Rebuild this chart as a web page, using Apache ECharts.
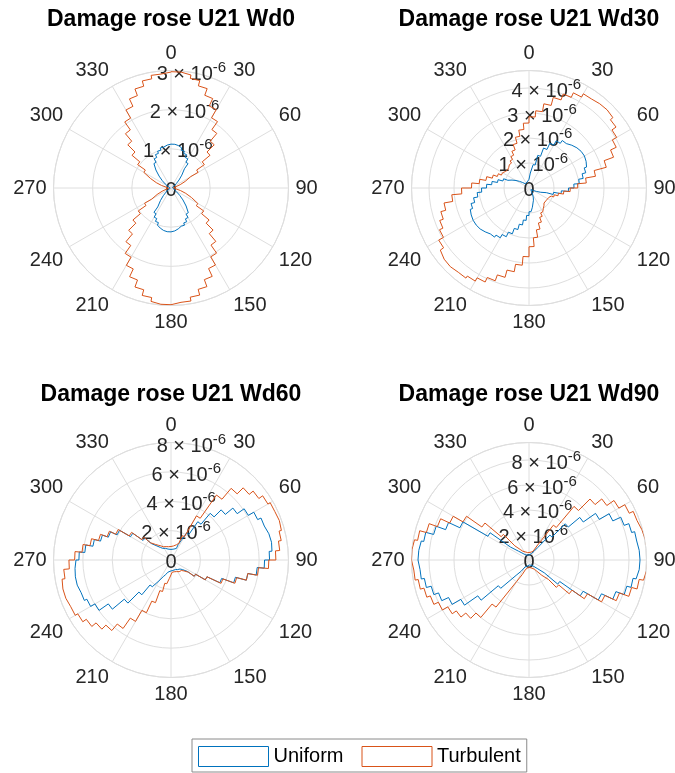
<!DOCTYPE html>
<html>
<head>
<meta charset="utf-8">
<script src="https://cdn.jsdelivr.net/npm/echarts@6/dist/echarts.min.js"></script>
<style>
html,body{margin:0;padding:0;background:#fff;}
#chart{width:675px;height:773px;}
</style>
</head>
<body>
<div id="chart"></div>
<script>
// ---------------- DATA (damage values in units of 1e-6) ----------------
// 72 angular bins of 5 degrees each; bin i spans [5*i, 5*i+5] degrees
const binWidth = 5;
const seriesNames = ['Uniform', 'Turbulent'];
const titles = ['Damage rose U21 Wd0', 'Damage rose U21 Wd30', 'Damage rose U21 Wd60', 'Damage rose U21 Wd90'];
const thetaStep = 30;
const rMax = [3.0, 4.7, 8.0, 9.4];
const rStep = [1, 1, 2, 2];
const rExponent = -6;

const uniformWd0 = [
  1.12,1.10,1.06,1.00,0.94,0.86,0.76,0.60,0.43,0.29,0.18,0.11,0.06,0.04,0.03,0.02,0.02,0.02,
  0.02,0.02,0.02,0.03,0.04,0.06,0.11,0.18,0.29,0.43,0.60,0.77,0.87,0.95,1.01,1.06,1.10,1.12,
  1.12,1.10,1.06,1.01,0.94,0.86,0.76,0.59,0.42,0.28,0.17,0.10,0.06,0.04,0.03,0.02,0.02,0.02,
  0.02,0.02,0.02,0.03,0.04,0.06,0.11,0.18,0.29,0.43,0.60,0.76,0.86,0.94,1.00,1.06,1.10,1.12
];
const turbulentWd0 = [
  2.97,2.93,2.84,2.70,2.52,2.31,2.07,1.82,1.56,1.30,1.04,0.80,0.58,0.40,0.25,0.13,0.06,0.03,
  0.03,0.06,0.13,0.25,0.40,0.58,0.79,1.02,1.27,1.52,1.78,2.03,2.27,2.49,2.68,2.83,2.93,2.98,
  2.98,2.94,2.84,2.69,2.50,2.28,2.04,1.79,1.53,1.27,1.02,0.78,0.57,0.39,0.24,0.13,0.06,0.03,
  0.03,0.06,0.13,0.25,0.40,0.58,0.80,1.04,1.30,1.56,1.81,2.06,2.30,2.51,2.69,2.83,2.92,2.96
];
const uniformWd30 = [
  0.35,0.60,0.95,1.35,1.70,1.98,2.18,2.32,2.42,2.50,2.55,2.56,2.52,2.45,2.35,2.20,2.02,1.80,
  1.58,1.30,1.00,0.72,0.50,0.32,0.20,0.13,0.10,0.10,0.12,0.18,0.28,0.40,0.52,0.62,0.78,0.95,
  1.10,1.30,1.50,1.72,1.95,2.15,2.30,2.40,2.48,2.55,2.58,2.58,2.55,2.50,2.40,2.25,2.08,1.90,
  1.70,1.50,1.28,1.08,0.90,0.75,0.60,0.46,0.35,0.27,0.22,0.20,0.20,0.20,0.22,0.25,0.28,0.32
];
const turbulentWd30 = [
  2.85,3.10,3.42,3.75,4.00,4.20,4.35,4.40,4.42,4.38,4.25,4.05,3.85,3.60,3.20,2.70,2.30,1.95,
  1.65,1.40,1.20,1.05,0.95,0.88,0.85,0.84,0.85,0.88,0.93,1.00,1.10,1.25,1.45,1.70,2.00,2.35,
  2.75,3.10,3.40,3.70,3.95,4.15,4.30,4.40,4.45,4.43,4.33,4.17,3.95,3.80,3.65,3.45,3.10,2.70,
  2.30,2.00,1.75,1.52,1.35,1.22,1.15,1.12,1.12,1.15,1.22,1.32,1.45,1.62,1.85,2.10,2.35,2.60
];
const uniformWd60 = [
  0.72,0.75,0.77,0.82,0.87,1.16,2.12,3.18,4.15,4.83,5.50,6.08,6.51,6.76,6.90,6.95,6.90,6.71,
  6.37,5.89,5.31,4.54,3.67,2.70,1.93,1.35,1.01,0.87,0.79,0.75,0.72,0.71,0.71,0.72,0.73,0.75,
  0.77,0.82,0.87,0.97,1.06,1.25,1.64,2.22,3.09,4.15,5.21,5.98,6.32,6.51,6.61,6.61,6.56,6.47,
  6.27,5.89,5.40,4.97,4.54,4.05,3.18,2.32,1.74,1.35,1.11,0.97,0.87,0.82,0.77,0.75,0.73,0.72
];
const turbulentWd60 = [
  0.92,0.97,1.01,1.11,1.25,1.83,3.47,5.40,6.37,6.95,7.30,7.62,7.80,7.85,7.78,7.62,7.43,7.14,
  6.66,5.98,5.31,4.63,3.76,2.70,1.93,1.45,1.16,1.01,0.97,0.92,0.87,0.85,0.83,0.82,0.84,0.92,
  1.01,1.25,1.64,2.22,3.09,3.96,4.83,5.69,6.27,6.66,7.04,7.33,7.53,7.62,7.62,7.53,7.33,6.95,
  6.56,6.08,5.60,5.11,4.63,4.15,3.28,2.41,1.83,1.50,1.30,1.16,1.04,0.97,0.94,0.92,0.92,0.92
];
const uniformWd90 = [
  0.40,0.42,0.45,0.50,0.55,0.65,0.80,1.20,2.60,4.10,5.30,6.50,7.40,8.10,8.50,8.75,8.85,8.88,
  8.85,8.70,8.45,8.10,7.40,6.40,5.00,3.00,1.60,1.00,0.75,0.60,0.50,0.45,0.42,0.40,0.40,0.40,
  0.40,0.42,0.45,0.50,0.55,0.65,0.80,1.10,1.60,3.20,5.00,6.30,7.10,7.70,8.10,8.50,8.75,8.88,
  8.85,8.75,8.55,7.90,7.10,6.10,3.80,1.80,1.10,0.80,0.62,0.52,0.46,0.43,0.41,0.40,0.40,0.40
];
const turbulentWd90 = [
  0.60,0.62,0.65,0.70,0.78,0.95,1.40,3.40,5.60,6.90,7.60,8.30,8.85,9.20,9.35,9.45,9.50,9.52,
  9.45,9.30,8.95,8.50,7.70,6.70,5.40,4.20,3.10,2.20,1.60,1.10,0.85,0.70,0.64,0.60,0.60,0.60,
  0.62,0.65,0.70,0.80,0.95,1.30,2.00,4.60,6.00,6.60,7.10,7.50,8.00,8.40,8.70,9.00,9.25,9.40,
  9.40,9.30,9.05,8.50,7.80,7.00,6.10,4.60,2.90,1.60,1.10,0.85,0.72,0.66,0.62,0.60,0.60,0.60
];
const uniformData = [uniformWd0, uniformWd30, uniformWd60, uniformWd90];
const turbulentData = [turbulentWd0, turbulentWd30, turbulentWd60, turbulentWd90];

// ---------------- LAYOUT / STYLE ----------------
const FONT = '"Liberation Sans", Arial, Helvetica, sans-serif';
const BLUE = '#0072BD', ORANGE = '#D95319';
const GRID = '#dedede', TXT = '#262626';
const centers = [[171, 188], [529, 188], [171, 560], [529, 560]];
const titleTop = [7, 7, 382, 382];
const R = 117.5;

function stairs(vals) {
  const pts = [];
  vals.forEach((v, i) => { pts.push([v, i * binWidth]); pts.push([v, (i + 1) * binWidth]); });
  pts.push([vals[0], 0]);
  return pts;
}

const polar = [], angleAxis = [], radiusAxis = [], series = [], title = [];
for (let i = 0; i < 4; i++) {
  polar.push({ center: centers[i], radius: R });
  angleAxis.push({
    polarIndex: i, type: 'value', min: 0, max: 360, interval: thetaStep,
    startAngle: 90, clockwise: true,
    axisLine: { show: true, lineStyle: { color: GRID, width: 1 } },
    axisTick: { show: false },
    axisLabel: { show: true, margin: 7, color: TXT, fontSize: 20, fontFamily: FONT },
    splitLine: { show: true, lineStyle: { color: GRID, width: 1 } }
  });
  radiusAxis.push({
    polarIndex: i, type: 'value', min: 0, max: rMax[i], interval: rStep[i],
    axisLine: { show: false }, axisTick: { show: false }, axisLabel: { show: false },
    splitLine: { show: true, lineStyle: { color: GRID, width: 1 } }
  });
  title.push({
    text: titles[i], left: centers[i][0], top: titleTop[i], textAlign: 'center', padding: 0,
    textStyle: { fontSize: 23, fontWeight: 'bold', color: '#000', lineHeight: 26, fontFamily: FONT }
  });
  series.push({
    name: seriesNames[0], type: 'line', coordinateSystem: 'polar', polarIndex: i,
    data: stairs(uniformData[i]), showSymbol: false, symbol: 'none', smooth: false,
    lineStyle: { color: BLUE, width: 1 }, itemStyle: { color: BLUE }, z: 3
  });
  series.push({
    name: seriesNames[1], type: 'line', coordinateSystem: 'polar', polarIndex: i,
    data: stairs(turbulentData[i]), showSymbol: false, symbol: 'none', smooth: false,
    lineStyle: { color: ORANGE, width: 1 }, itemStyle: { color: ORANGE }, z: 4
  });
}
// overlay polar systems that only carry the radius tick labels (r-axis at 10 deg)
for (let i = 0; i < 4; i++) {
  const step = rStep[i];
  polar.push({ center: centers[i], radius: R });
  angleAxis.push({ polarIndex: 4 + i, type: 'value', min: 0, max: 360, startAngle: 80, clockwise: true, show: false });
  radiusAxis.push({
    polarIndex: 4 + i, type: 'value', min: 0, max: rMax[i], interval: step,
    axisLine: { show: false }, axisTick: { show: false }, splitLine: { show: false },
    axisLabel: {
      show: true, margin: 0, align: 'center', verticalAlign: 'middle',
      formatter: function (v) {
        if (Math.abs(v) < 1e-9) return '{m|0}';
        const k = v / step;
        if (Math.abs(k - Math.round(k)) > 1e-6) return '';
        return '{m|' + Math.round(v) + ' \u00d7 10}{s|' + rExponent + '}';
      },
      rich: {
        m: { fontSize: 20, lineHeight: 24, padding: [3, 0, 0, 0], verticalAlign: 'bottom', color: TXT, fontFamily: FONT },
        s: { fontSize: 15, lineHeight: 15, verticalAlign: 'top', color: TXT, fontFamily: FONT }
      }
    }
  });
}

const chart = echarts.init(document.getElementById('chart'), null, { renderer: 'canvas' });
chart.setOption({
  animation: false,
  backgroundColor: '#fff',
  title: title,
  polar: polar,
  angleAxis: angleAxis,
  radiusAxis: radiusAxis,
  legend: {
    left: 192, top: 739, orient: 'horizontal',
    padding: [7, 6, 5, 6], itemGap: 18, itemWidth: 70, itemHeight: 20,
    borderColor: '#8a8a8a', borderWidth: 1, backgroundColor: '#fff',
    textStyle: { fontSize: 20, color: '#000', fontFamily: FONT },
    selectedMode: false,
    data: [
      { name: 'Uniform', icon: 'rect', itemStyle: { color: '#fff', borderColor: BLUE, borderWidth: 1 } },
      { name: 'Turbulent', icon: 'rect', itemStyle: { color: '#fff', borderColor: ORANGE, borderWidth: 1 } }
    ]
  },
  series: series
});
</script>
</body>
</html>
